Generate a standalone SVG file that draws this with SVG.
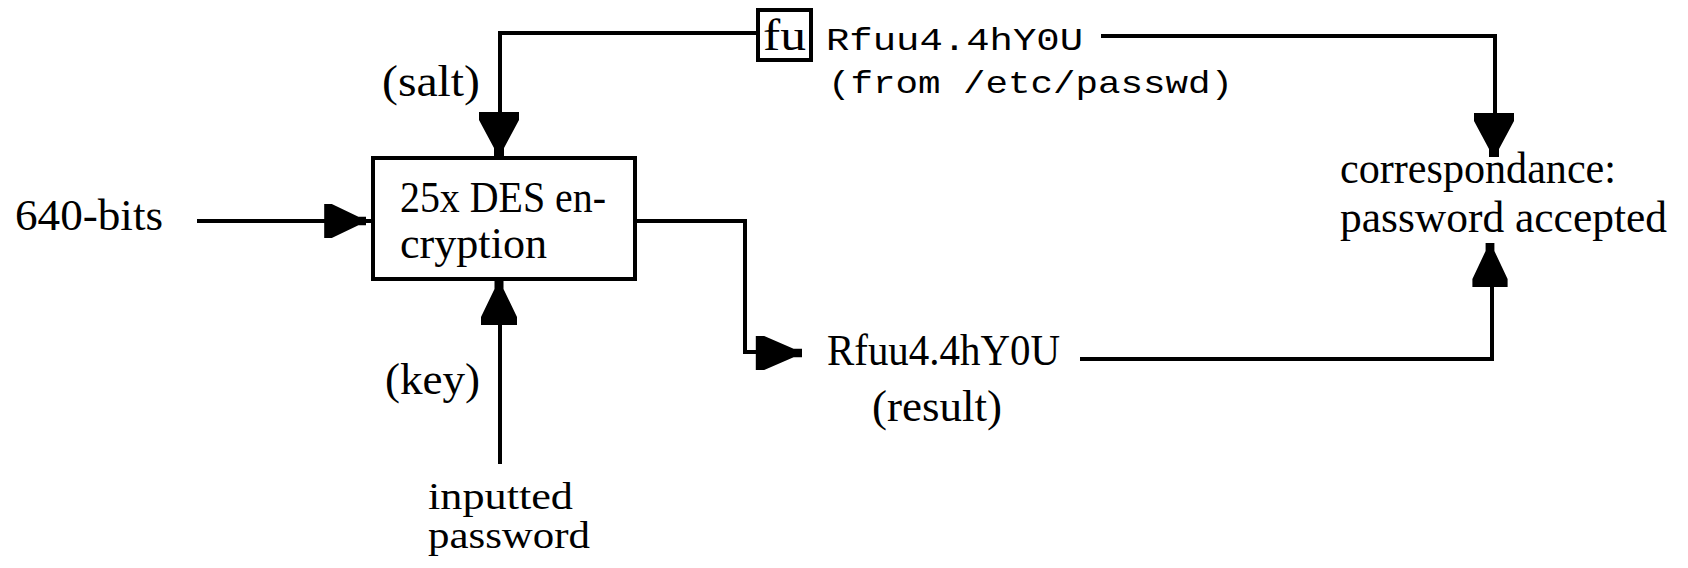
<svg xmlns="http://www.w3.org/2000/svg" xmlns:xlink="http://www.w3.org/1999/xlink" width="1688" height="568" viewBox="0 0 1688 568">
<style>
.ln{fill:none;stroke:#000;stroke-width:4;stroke-linejoin:miter;stroke-linecap:square}
.box{fill:#fff;stroke:#000;stroke-width:4}
.t{font-family:"Liberation Serif","Times New Roman",serif;font-size:44px;fill:#000}
.s{font-family:"Liberation Serif","Times New Roman",serif;font-size:38px;fill:#000}
.m{font-family:"Liberation Mono","Courier New",monospace;font-size:32px;fill:#000}
</style>
<defs>
<path id="ah" d="M -5,0 H 5 V -8 L 20,-36 V -44 H -20 V -36 L -5,-8 Z" fill="#000"/>
</defs>
<rect width="1688" height="568" fill="#fff"/>
<g id="connectors">
<polyline class="ln" points="758,33 500,33 500,112"/>
<use xlink:href="#ah" transform="translate(499,156)"/>
<polyline class="ln" points="199,221 330,221"/>
<line class="ln" x1="360" y1="221" x2="371" y2="221"/>
<use xlink:href="#ah" transform="translate(366,221) rotate(-90) scale(0.85,0.95)"/>
<line class="ln" x1="500" y1="462" x2="500" y2="320"/>
<use xlink:href="#ah" transform="translate(499,281) rotate(180) scale(0.9,1)"/>
<polyline class="ln" points="635,221 745,221 745,352 760,352"/>
<use xlink:href="#ah" transform="translate(802,353) rotate(-90) scale(0.85,1.05)"/>
<polyline class="ln" points="1103,36 1495,36 1495,112"/>
<use xlink:href="#ah" transform="translate(1494,157)"/>
<polyline class="ln" points="1082,359 1492,359 1492,284"/>
<use xlink:href="#ah" transform="translate(1490,243) rotate(180) scale(0.88,1)"/>
</g>
<g id="des-box">
<rect class="box" x="373" y="158" width="262" height="121"/>
<text class="t" x="400" y="212" textLength="206" lengthAdjust="spacingAndGlyphs">25x DES en-</text>
<text class="t" x="400" y="258" textLength="147" lengthAdjust="spacingAndGlyphs">cryption</text>
</g>
<g id="input-bits">
<text class="t" x="15" y="230" textLength="148" lengthAdjust="spacingAndGlyphs">640-bits</text>
</g>
<g id="salt-label">
<text class="t" x="382" y="96" textLength="98" lengthAdjust="spacingAndGlyphs">(salt)</text>
</g>
<g id="key-label">
<text class="t" x="385" y="394" textLength="95" lengthAdjust="spacingAndGlyphs">(key)</text>
</g>
<g id="inputted-password">
<text class="s" x="428" y="509" textLength="145" lengthAdjust="spacingAndGlyphs">inputted</text>
<text class="s" x="428" y="548" textLength="162" lengthAdjust="spacingAndGlyphs">password</text>
</g>
<g id="stored-hash">
<rect class="box" x="758" y="10" width="53" height="50"/>
<text class="t" x="763" y="50" textLength="43" lengthAdjust="spacingAndGlyphs">fu</text>
<text class="m" x="826" y="50" textLength="257" lengthAdjust="spacingAndGlyphs">Rfuu4.4hY0U</text>
<text class="m" x="828" y="93" textLength="405" lengthAdjust="spacingAndGlyphs">(from /etc/passwd)</text>
</g>
<g id="result">
<text class="t" x="827" y="365" textLength="233" lengthAdjust="spacingAndGlyphs">Rfuu4.4hY0U</text>
<text class="t" x="872" y="421" textLength="130" lengthAdjust="spacingAndGlyphs">(result)</text>
</g>
<g id="correspondance">
<text class="t" x="1340" y="183" textLength="276" lengthAdjust="spacingAndGlyphs">correspondance:</text>
<text class="t" x="1340" y="232" textLength="327" lengthAdjust="spacingAndGlyphs">password accepted</text>
</g>
</svg>
